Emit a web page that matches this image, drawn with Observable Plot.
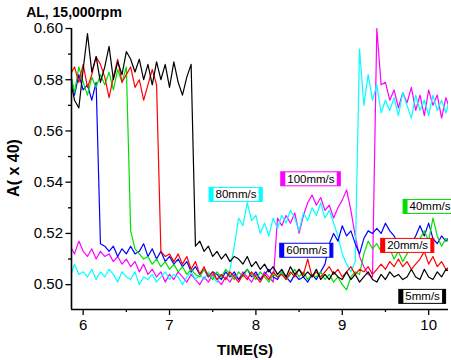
<!DOCTYPE html>
<html><head><meta charset="utf-8">
<script src="https://cdn.jsdelivr.net/npm/d3@7"></script>
<script src="https://cdn.jsdelivr.net/npm/@observablehq/plot@0.6"></script>
<style>
body{margin:0;background:#fff;font-family:"Liberation Sans",Arial,sans-serif}
#chart{position:relative;width:451px;height:360px}
</style>
</head><body><div id="chart"></div>
<script>
// time (s)
const time = [5.85,5.90,5.95,6.00,6.05,6.10,6.15,6.20,6.25,6.30,6.35,6.40,6.45,6.50,6.55,6.60,6.65,6.70,6.75,6.80,
6.85,6.90,6.95,7.00,7.05,7.10,7.15,7.20,7.25,7.30,7.35,7.40,7.45,7.50,7.55,7.60,7.65,7.70,7.75,7.80,
7.85,7.90,7.95,8.00,8.05,8.10,8.15,8.20,8.25,8.30,8.35,8.40,8.45,8.50,8.55,8.60,8.65,8.70,8.75,8.80,
8.85,8.90,8.95,9.00,9.05,9.10,9.15,9.20,9.25,9.30,9.35,9.40,9.45,9.50,9.55,9.60,9.65,9.70,9.75,9.80,
9.85,9.90,9.95,10.00,10.05,10.10,10.15,10.20,10.25];

const s5 = [0.580,0.572,0.569,0.584,0.598,0.583,0.589,0.579,0.585,0.593,0.580,0.587,0.582,0.591,0.588,0.583,0.588,0.580,0.586,0.578,
0.587,0.580,0.586,0.577,0.587,0.579,0.574,0.581,0.586,0.515,0.517,0.513,0.515,0.511,0.513,0.510,0.512,0.509,0.511,0.510,
0.508,0.511,0.507,0.509,0.506,0.508,0.505,0.507,0.504,0.506,0.503,0.507,0.504,0.506,0.503,0.505,0.503,0.506,0.502,0.504,
0.502,0.505,0.503,0.502,0.505,0.502,0.504,0.501,0.503,0.505,0.502,0.501,0.504,0.502,0.505,0.503,0.504,0.502,0.503,0.506,
0.503,0.502,0.506,0.503,0.502,0.505,0.503,0.506,0.505];

const s20 = [0.582,0.585,0.579,0.586,0.577,0.582,0.589,0.586,0.581,0.573,0.581,0.588,0.579,0.582,0.585,0.577,0.580,0.572,0.578,0.584,
0.578,0.513,0.511,0.512,0.509,0.512,0.508,0.511,0.506,0.509,0.504,0.507,0.503,0.505,0.502,0.504,0.502,0.505,0.503,0.501,
0.504,0.502,0.505,0.503,0.501,0.504,0.502,0.505,0.503,0.504,0.502,0.505,0.503,0.506,0.504,0.510,0.503,0.505,0.503,0.505,
0.507,0.504,0.506,0.503,0.505,0.507,0.504,0.506,0.505,0.507,0.504,0.506,0.508,0.506,0.509,0.507,0.510,0.507,0.509,0.506,
0.508,0.510,0.513,0.508,0.511,0.507,0.509,0.506,0.507];

const s40 = [0.583,0.575,0.585,0.579,0.574,0.581,0.577,0.582,0.578,0.583,0.576,0.584,0.579,0.585,0.521,0.514,0.512,0.510,0.511,0.508,
0.510,0.507,0.509,0.506,0.508,0.505,0.507,0.504,0.506,0.504,0.503,0.506,0.504,0.502,0.505,0.503,0.506,0.504,0.502,0.505,
0.503,0.506,0.504,0.502,0.505,0.503,0.501,0.504,0.503,0.505,0.502,0.504,0.506,0.503,0.505,0.502,0.504,0.503,0.505,0.502,
0.504,0.501,0.503,0.500,0.498,0.503,0.505,0.504,0.512,0.517,0.514,0.516,0.513,0.517,0.514,0.510,0.513,0.509,0.512,0.516,
0.513,0.518,0.521,0.517,0.526,0.519,0.515,0.518,0.516];

const s60 = [0.583,0.574,0.582,0.576,0.578,0.572,0.579,0.516,0.515,0.513,0.515,0.511,0.514,0.512,0.515,0.512,0.513,0.516,0.511,0.514,
0.510,0.513,0.509,0.511,0.508,0.510,0.507,0.509,0.505,0.507,0.504,0.506,0.503,0.505,0.504,0.502,0.505,0.503,0.505,0.502,
0.504,0.506,0.503,0.505,0.502,0.504,0.506,0.503,0.502,0.505,0.503,0.501,0.504,0.502,0.503,0.501,0.504,0.502,0.505,0.508,
0.516,0.520,0.517,0.523,0.519,0.521,0.516,0.512,0.518,0.521,0.520,0.522,0.520,0.524,0.521,0.519,0.516,0.515,0.513,0.516,
0.519,0.523,0.519,0.524,0.518,0.516,0.519,0.517,0.519];

const s80 = [0.503,0.508,0.504,0.505,0.503,0.506,0.502,0.505,0.503,0.506,0.504,0.501,0.505,0.503,0.502,0.505,0.500,0.503,0.502,0.504,
0.501,0.503,0.505,0.502,0.504,0.503,0.500,0.503,0.505,0.502,0.504,0.502,0.505,0.503,0.501,0.504,0.502,0.506,0.515,0.526,
0.523,0.532,0.525,0.527,0.520,0.524,0.519,0.526,0.522,0.527,0.524,0.529,0.526,0.521,0.528,0.525,0.530,0.527,0.532,0.526,
0.529,0.524,0.519,0.512,0.508,0.505,0.509,0.592,0.570,0.582,0.572,0.578,0.567,0.572,0.568,0.573,0.566,0.575,0.570,0.565,
0.574,0.568,0.572,0.566,0.574,0.568,0.572,0.567,0.573];

const s100 = [0.515,0.512,0.517,0.513,0.511,0.514,0.510,0.513,0.511,0.512,0.509,0.511,0.508,0.510,0.507,0.509,0.505,0.508,0.504,0.506,
0.503,0.505,0.501,0.504,0.502,0.505,0.503,0.501,0.504,0.502,0.500,0.503,0.501,0.504,0.502,0.500,0.503,0.501,0.504,0.502,
0.505,0.503,0.501,0.504,0.502,0.505,0.503,0.501,0.526,0.523,0.527,0.524,0.528,0.520,0.527,0.532,0.535,0.531,0.534,0.529,
0.531,0.526,0.530,0.533,0.537,0.529,0.519,0.511,0.507,0.504,0.503,0.600,0.578,0.579,0.572,0.576,0.569,0.575,0.571,0.577,
0.568,0.574,0.566,0.576,0.570,0.574,0.565,0.573,0.568];

const seriesNames = ["100mm/s","80mm/s","60mm/s","40mm/s","20mm/s","5mm/s"];
const seriesValues = [s100, s80, s60, s40, s20, s5];
const seriesColors = ["#ff00ff","#00ffff","#0000ff","#00e000","#ff0000","#000000"];

// annotation labels
const labText = ["80mm/s","100mm/s","40mm/s","60mm/s","20mm/s","5mm/s"];
const labX = [7.77, 8.637, 10.016, 8.588, 9.757, 9.93];
const labY = [0.5351, 0.5412, 0.5304, 0.5133, 0.5152, 0.4953];
const labColor = ["#00ffff","#ff00ff","#00e000","#0000ff","#ff0000","#000000"];

const yMajor = [0.50,0.52,0.54,0.56,0.58,0.60];
const yMinor = [0.49,0.51,0.53,0.55,0.57,0.59];
const xMajor = [6,7,8,9,10];
const xMinor = [6.5,7.5,8.5,9.5];

const xDom = [5.865, 10.23];
const yDom = [0.4903, 0.60];

const labels = labText.map((t, i) => ({t, x: labX[i], y: labY[i]}));

const marks = [];
seriesValues.forEach((vals, k) => {
  const rows = time.map((t, i) => ({t, v: vals[i]}));
  marks.push(Plot.line(rows, {x: "t", y: "v", stroke: seriesColors[k], strokeWidth: 1.2, clip: true}));
});
marks.push(
  Plot.axisY(yMajor, {tickSize: 5.5, tickPadding: 3, tickFormat: d3.format(".2f"), fontSize: 15, label: null, strokeWidth: 1.3}),
  Plot.axisY(yMinor.filter(d => d >= yDom[0]), {tickSize: 3, tickFormat: () => "", label: null, strokeWidth: 1.3}),
  Plot.axisX(xMajor, {tickSize: 6, tickPadding: 4, tickFormat: d3.format("d"), fontSize: 15, label: null, strokeWidth: 1.3}),
  Plot.axisX(xMinor, {tickSize: 3, tickFormat: () => "", label: null, strokeWidth: 1.3}),
  Plot.ruleX([xDom[0]], {strokeWidth: 1.6}),
  Plot.ruleY([yDom[0]], {strokeWidth: 1.6}),
  Plot.text(labels, {x: "x", y: "y", text: "t", fontSize: 11.5, fill: "#000"})
);

const svg = Plot.plot({
  width: 451, height: 360,
  marginLeft: 71, marginRight: 3, marginTop: 28, marginBottom: 51,
  x: {domain: xDom},
  y: {domain: yDom},
  style: {fontFamily: '"Liberation Sans", Arial, sans-serif', background: "#fff", color: "#000", overflow: "visible"},
  marks
});
document.getElementById("chart").append(svg);

// boxes behind labels
const tg = svg.querySelector('g[aria-label="text"]');
tg.querySelectorAll("text").forEach((el, i) => {
  const b = el.getBBox();
  const c = labColor[i];
  const tr = el.getAttribute("transform");
  const cy = b.y + b.height / 2;
  const x0 = b.x - 6.5, x1 = b.x + b.width + 5.5, y0 = cy - 7, h = 14;
  const mk = (x, w, fill, stroke) => {
    const r = document.createElementNS("http://www.w3.org/2000/svg", "rect");
    r.setAttribute("x", x); r.setAttribute("y", y0); r.setAttribute("width", w); r.setAttribute("height", h);
    r.setAttribute("fill", fill);
    if (stroke) { r.setAttribute("stroke", stroke); r.setAttribute("stroke-width", 1); }
    if (tr) r.setAttribute("transform", tr);
    el.parentNode.insertBefore(r, el);
  };
  mk(x0, x1 - x0, "#fff", c);
  mk(x0, 4.5, c, null);
  mk(x1 - 3.5, 3.5, c, null);
});

// title and axis labels
const s = d3.select(svg);
s.append("text").attr("x", 74).attr("y", 17).attr("font-size", 14).attr("font-weight", "bold").text("AL, 15,000rpm");
s.append("text").attr("transform", "translate(19,168) rotate(-90)").attr("text-anchor", "middle")
  .attr("font-size", 16).attr("font-weight", "bold").text("A( x 40)");
s.append("text").attr("x", 245).attr("y", 355).attr("text-anchor", "middle")
  .attr("font-size", 15).attr("font-weight", "bold").text("TIME(S)");
</script>
</body></html>
